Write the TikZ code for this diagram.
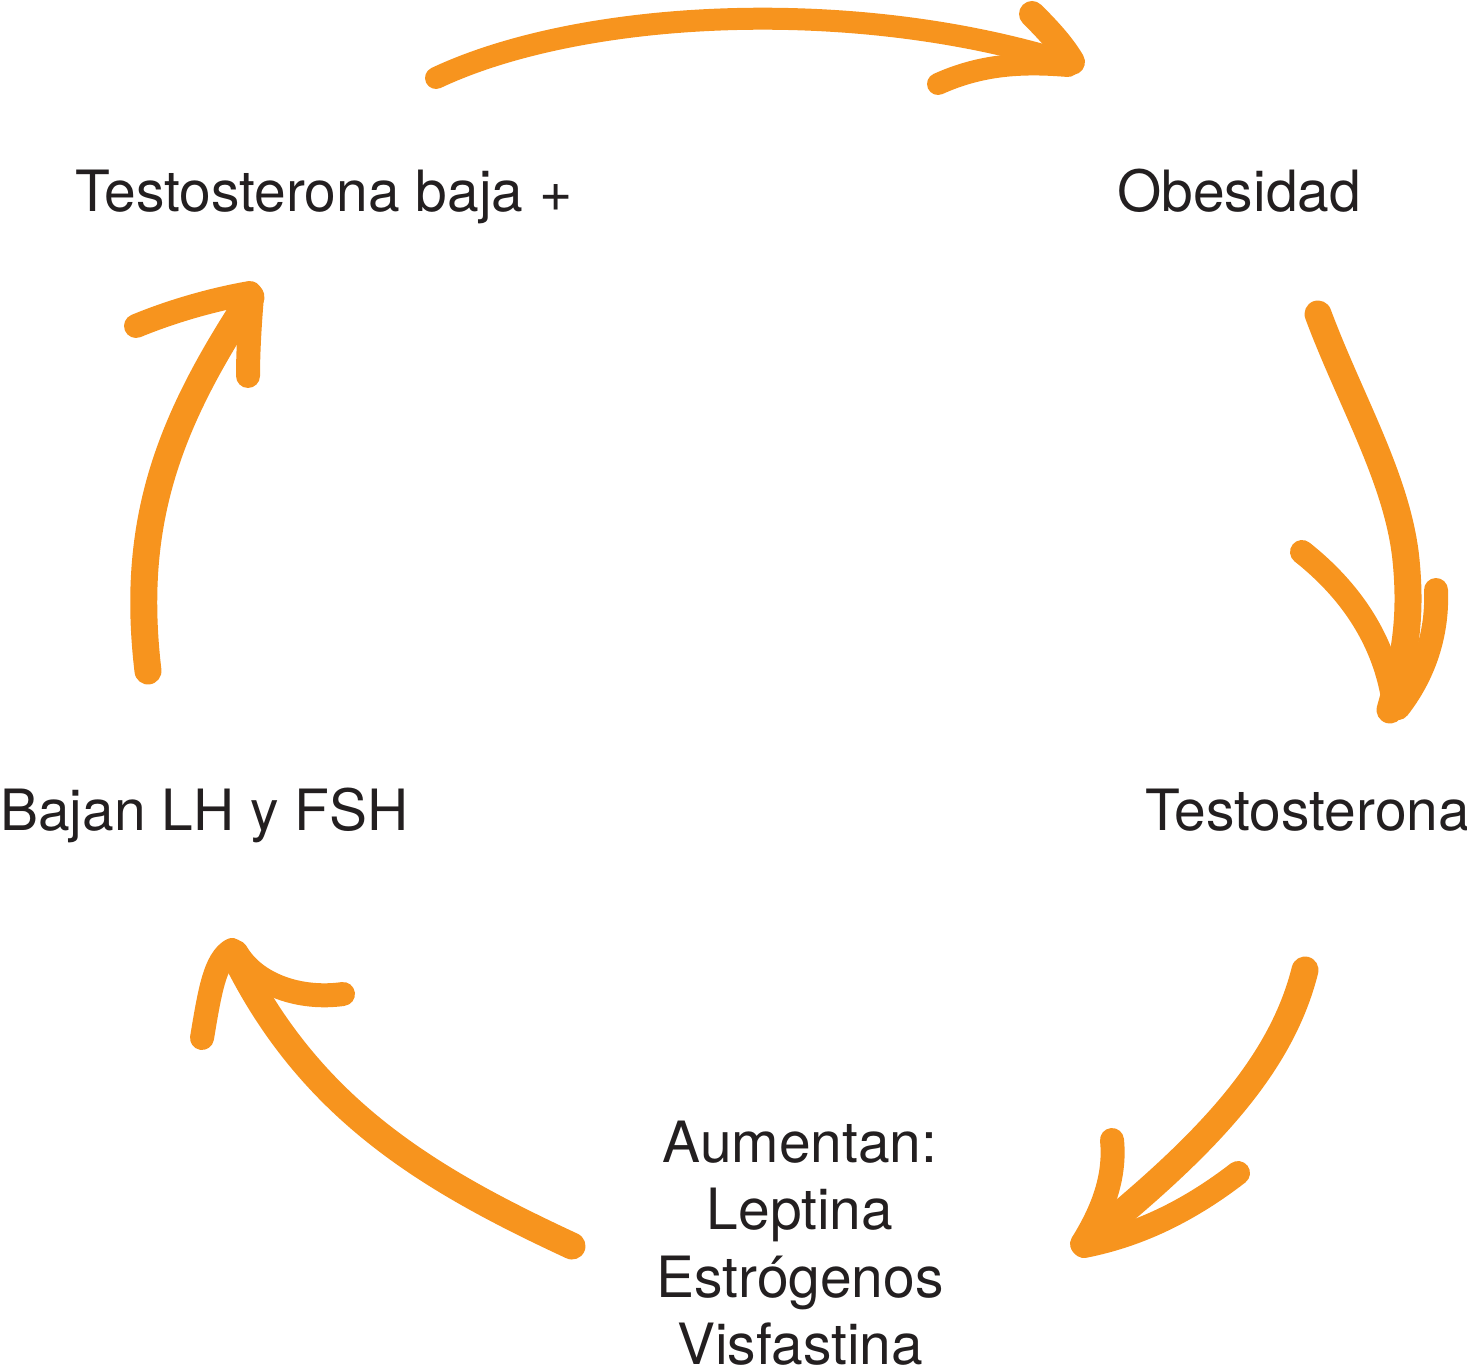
\documentclass[tikz,border=0pt]{standalone}
\usepackage{fontspec}
\setmainfont{TeX Gyre Heros}
\definecolor{brush}{RGB}{247,148,30}
\definecolor{txt}{RGB}{35,31,32}
\begin{document}
\begin{tikzpicture}[x=0.02cm,y=-0.02cm,
  lbl/.style={inner sep=0pt,text=txt,font=\fontsize{32.4}{38.2}\selectfont},
  shaft/.style={draw=brush,line width=0.54cm,line cap=round,line join=round},
  barb/.style={draw=brush,line width=0.48cm,line cap=round,line join=round}]
\useasboundingbox (0,0) rectangle (1467,1368);
% labels
\node[lbl,anchor=base west] (tb) at (75,212) {Testosterona baja +};
\node[lbl,anchor=base west] (ob) at (1117,212) {Obesidad};
\node[lbl,anchor=base west] (te) at (1145,830) {Testosterona};
\node[lbl,anchor=base west] (bl) at (0,830) {Bajan LH y FSH};
\node[lbl,anchor=north,align=center] (au) at (800,1121) {Aumentan:\\Leptina\\Estrógenos\\Visfastina};
% arrow endpoints
\coordinate (a1s) at (436,78);   \coordinate (a1t) at (1066,62);
\coordinate (a2s) at (1318,314); \coordinate (a2t) at (1390,710);
\coordinate (a3s) at (1305,970); \coordinate (a3t) at (1084,1244);
\coordinate (a4s) at (572,1246); \coordinate (a4t) at (234,954);
\coordinate (a5s) at (148,671);  \coordinate (a5t) at (251,297);
% arrow 1: top
\draw[shaft,line width=0.44cm] (a1s) .. controls (580,10) and (850,-5) .. (a1t);
\draw[barb,line width=0.52cm] (1032,14) .. controls (1048,30) and (1062,45) .. (1072,62);
\draw[barb,line width=0.44cm] (938,84) .. controls (980,65) and (1020,62) .. (1068,66);
% arrow 2: right
\draw[shaft] (a2s) .. controls (1350,400) and (1398,480) .. (1406,560) .. controls (1412,620) and (1404,660) .. (a2t);
\draw[barb] (1302,552) .. controls (1350,590) and (1385,640) .. (1394,704);
\draw[barb] (1436,590) .. controls (1438,640) and (1420,680) .. (1398,708);
% arrow 3: bottom right
\draw[shaft] (a3s) .. controls (1280,1070) and (1200,1150) .. (a3t);
\draw[barb] (1112,1140) .. controls (1116,1180) and (1100,1215) .. (1082,1244);
\draw[barb] (1238,1173) .. controls (1190,1210) and (1140,1235) .. (1084,1246);
% arrow 4: bottom left
\draw[shaft] (a4s) .. controls (430,1180) and (310,1110) .. (a4t);
\draw[barb] (202,1038) .. controls (210,990) and (215,960) .. (232,950);
\draw[barb] (343,994) .. controls (300,1000) and (255,985) .. (236,952);
% arrow 5: left
\draw[shaft] (a5s) .. controls (130,520) and (170,420) .. (a5t);
\draw[barb] (136,326) .. controls (170,312) and (210,300) .. (250,293);
\draw[barb] (248,376) .. controls (248,350) and (250,320) .. (252,296);
\end{tikzpicture}
\end{document}
